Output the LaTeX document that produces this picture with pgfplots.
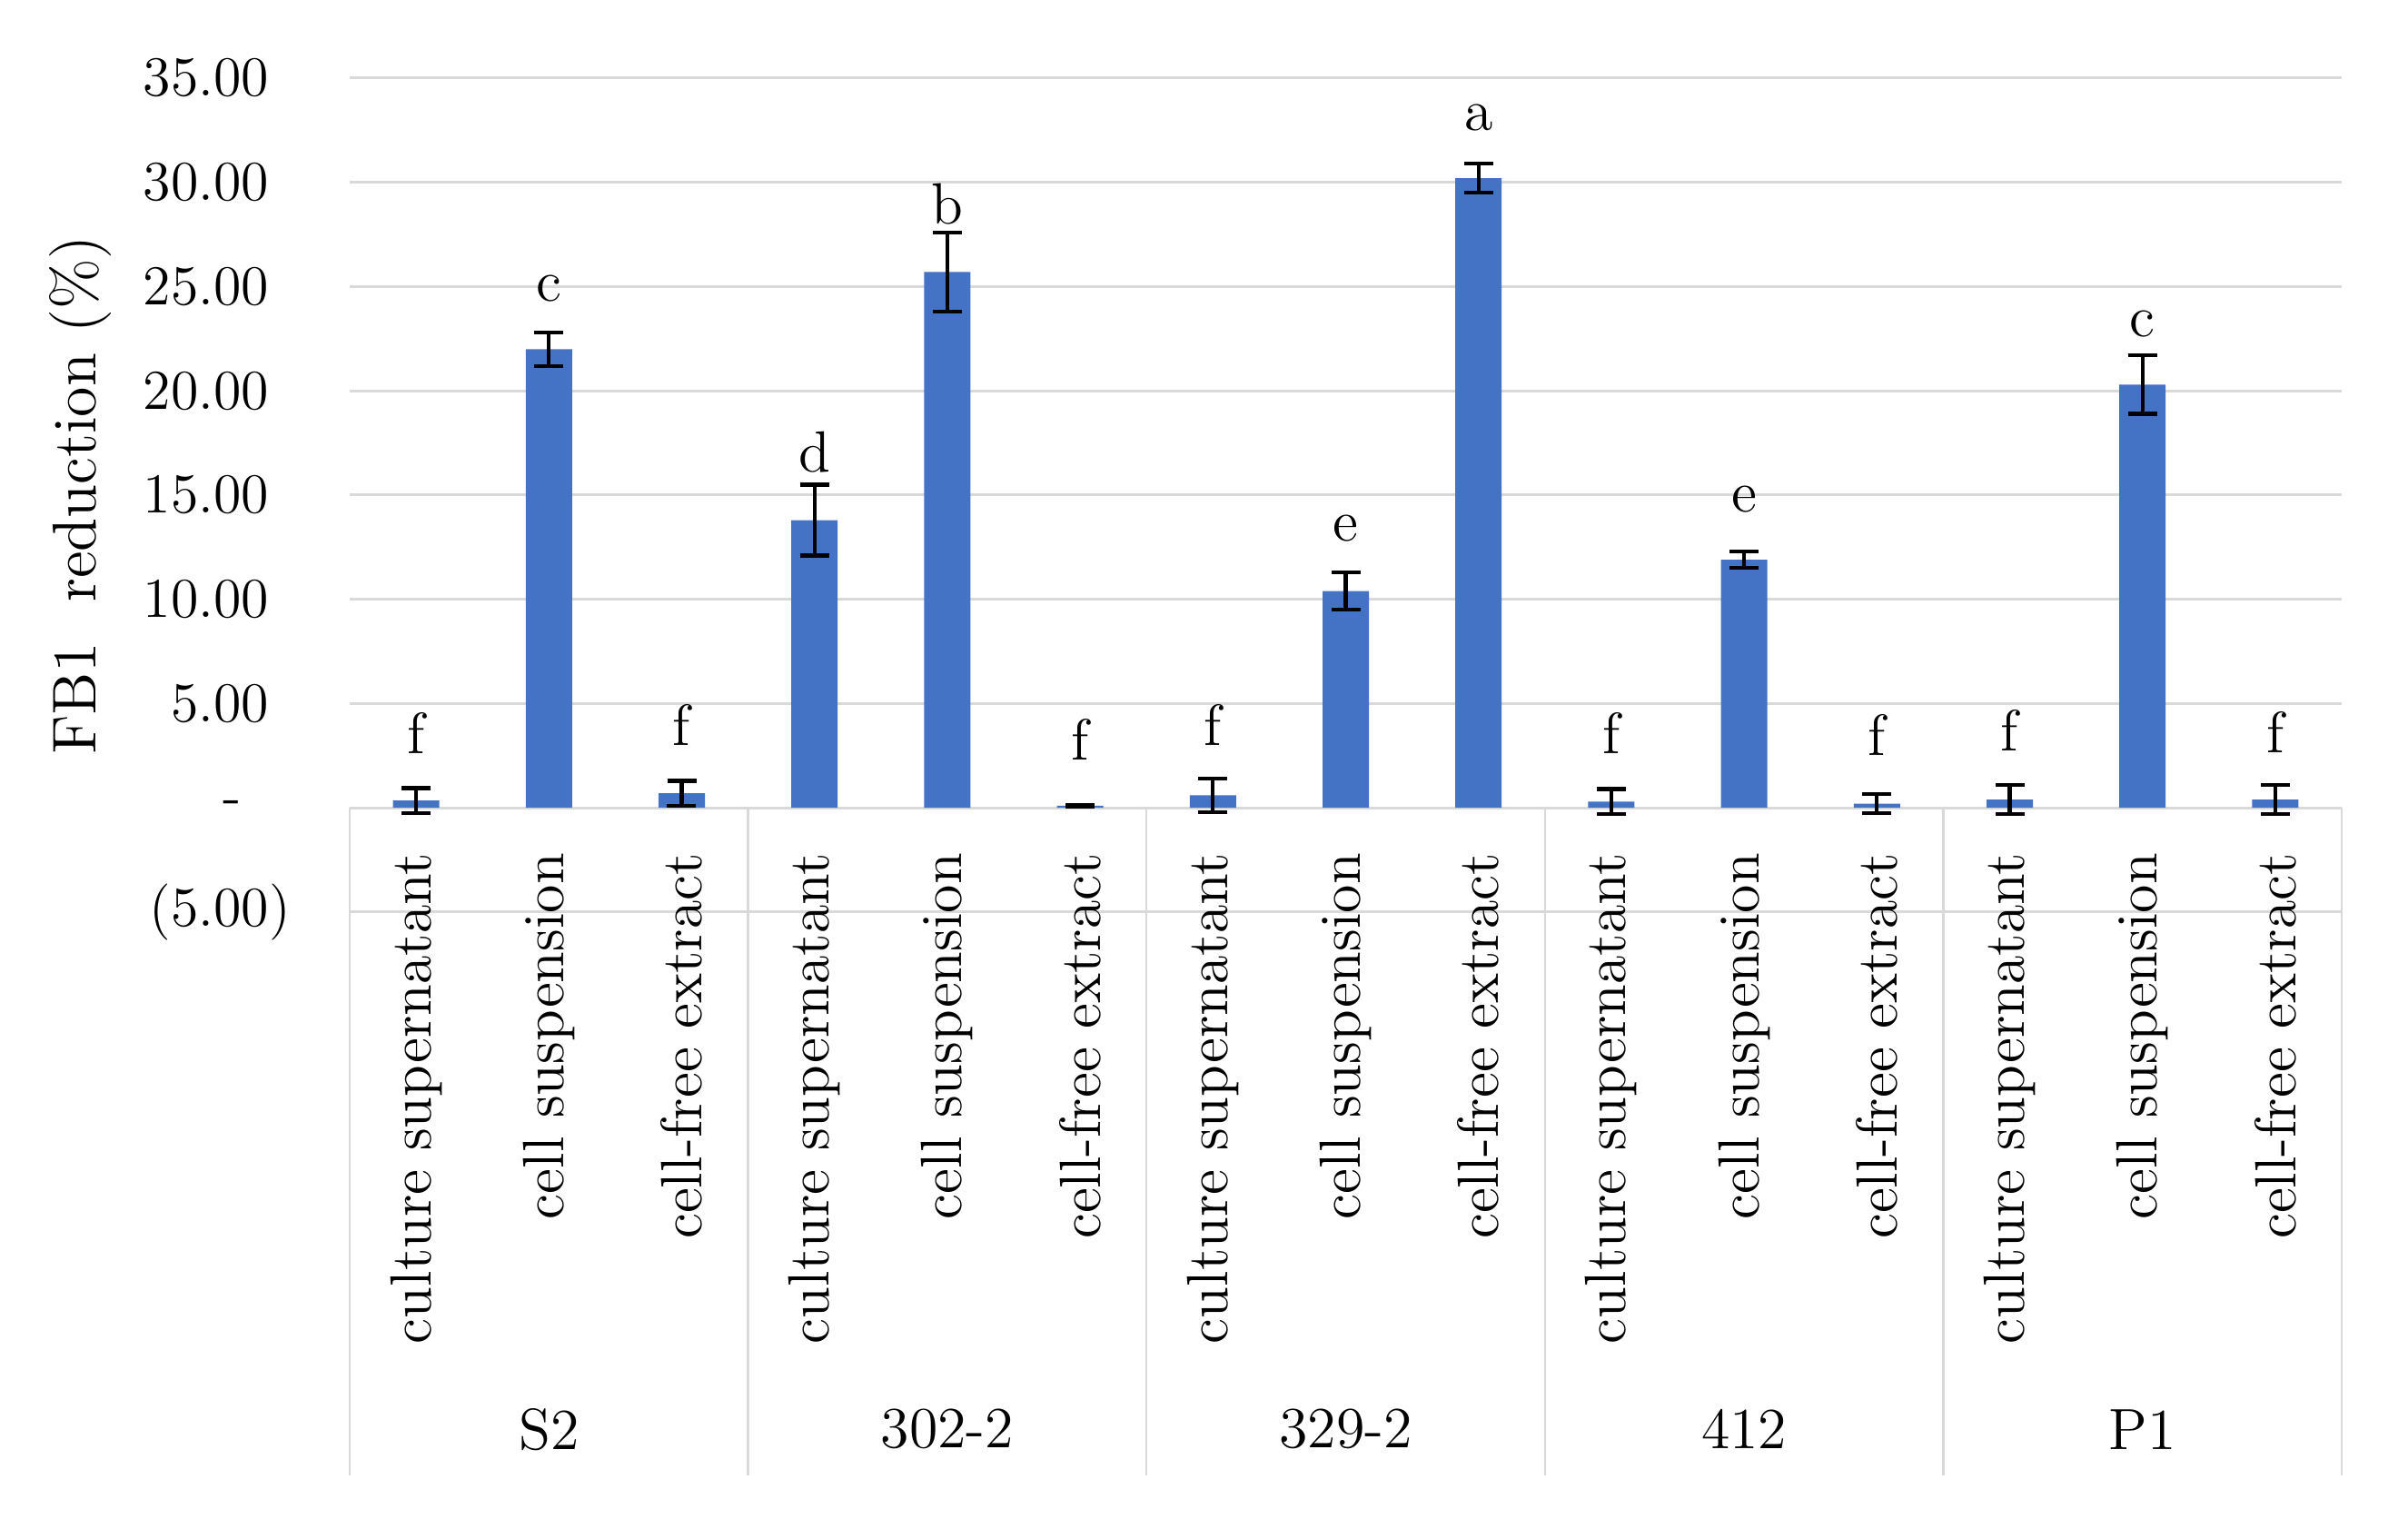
\documentclass[border=0pt]{standalone}
\usepackage{pgfplots}
\pgfplotsset{compat=1.18}
\usepackage{pgfplotstable}
\definecolor{barblue}{HTML}{4472C4}
\definecolor{gridgray}{HTML}{D9D9D9}
\pgfplotstableread{
x y err ly lab
0 0.35 0.6 2.6 f
1 22.0 0.8 24.3 c
2 0.7 0.6 3.0 f
3 13.8 1.7 16.1 d
4 25.7 1.9 28.0 b
5 0.1 0.05 2.3 f
6 0.6 0.8 3.0 f
7 10.4 0.9 12.8 e
8 30.2 0.7 32.5 a
9 0.3 0.6 2.6 f
10 11.9 0.4 14.2 e
11 0.2 0.45 2.5 f
12 0.4 0.7 2.75 f
13 20.3 1.4 22.6 c
14 0.4 0.7 2.65 f
}\data
\begin{document}
\begin{tikzpicture}
\begin{axis}[
  scale only axis, width=438.6pt, height=183.6pt,
  xmin=-0.5, xmax=14.5, ymin=-5, ymax=35,
  axis line style={draw=none},
  major tick length=0pt,
  ytick={-5,0,5,10,15,20,25,30,35},
  yticklabels={(5.00), {-\hphantom{0)}}, {5.00\hphantom{)}}, {10.00\hphantom{)}}, {15.00\hphantom{)}}, {20.00\hphantom{)}}, {25.00\hphantom{)}}, {30.00\hphantom{)}}, {35.00\hphantom{)}}},
  ymajorgrids, grid style={gridgray, line width=0.6pt},
  yticklabel style={font=\fontsize{12.4}{14}\selectfont, anchor=east, inner sep=0pt, xshift=-12.8pt},
  xtick={0,1,...,14},
  xticklabels={culture supernatant, cell suspension, cell-free extract,
    culture supernatant, cell suspension, cell-free extract,
    culture supernatant, cell suspension, cell-free extract,
    culture supernatant, cell suspension, cell-free extract,
    culture supernatant, cell suspension, cell-free extract},
  xticklabel style={font=\fontsize{12.8}{14}\selectfont, yshift=13.2pt, rotate=90, anchor=east, inner sep=0pt},
  ylabel={FB1\ \ reduction (\%)},
  ylabel style={font=\fontsize{13.6}{16}\selectfont, at={(axis description cs:-0.1354,0.5)}, anchor=center},
  clip=false,
]
\pgfplotsinvokeforeach{-0.5,2.5,5.5,8.5,11.5,14.5}{
  \draw[gridgray, line width=0.5pt] (axis cs:#1,0) -- (axis cs:#1,-32);
}
\addplot[ybar, bar width=10.2pt, fill=barblue, draw=none,
  error bars/.cd, y dir=both, y explicit,
  error bar style={line width=0.85pt, black},
  error mark options={rotate=90, mark size=3.2pt, line width=0.85pt, black}]
  table[x=x, y=y, y error=err] {\data};
\addplot[draw=none, mark=none, nodes near coords, point meta=explicit symbolic,
  every node near coord/.append style={anchor=base, inner sep=0pt, black, font=\fontsize{12.8}{14}\selectfont}]
  table[x=x, y=ly, meta=lab] {\data};
\begin{scope}[font=\fontsize{12.8}{14}\selectfont]
\node at (axis cs:1,-29.8) {S2};
\node at (axis cs:4,-29.8) {302-2};
\node at (axis cs:7,-29.8) {329-2};
\node at (axis cs:10,-29.8) {412};
\node at (axis cs:13,-29.8) {P1};
\end{scope}
\end{axis}
\pgfresetboundingbox
\path ([shift={(-77pt,-138pt)}]current axis.south west) rectangle ([shift={(14.6pt,17.2pt)}]current axis.north east);
\end{tikzpicture}
\end{document}
